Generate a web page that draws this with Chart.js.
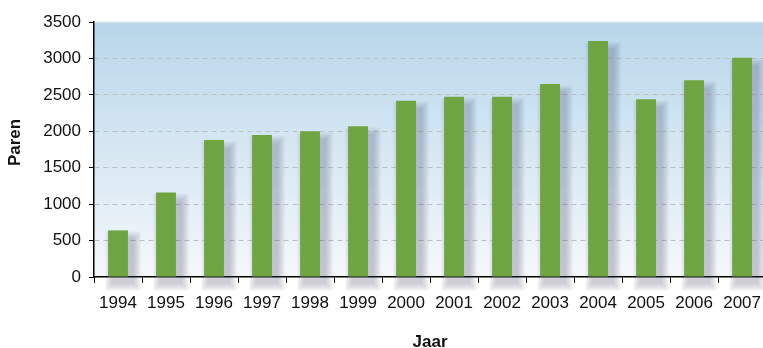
<!DOCTYPE html>
<html>
<head>
<meta charset="utf-8">
<script src="https://cdn.jsdelivr.net/npm/chart.js@4/dist/chart.umd.min.js"></script>
<style>
  html, body { margin: 0; padding: 0; background: #fff; overflow: hidden; }
  #wrap { width: 771px; height: 348px; }
</style>
</head>
<body>
<div id="wrap"><canvas id="chart"></canvas></div>
<script>
const years  = ['1994','1995','1996','1997','1998','1999','2000','2001','2002','2003','2004','2005','2006','2007'];
const paren  = [640, 1160, 1880, 1950, 2000, 2070, 2420, 2475, 2475, 2650, 3240, 2440, 2700, 3010];
const yTicks = [0, 500, 1000, 1500, 2000, 2500, 3000, 3500];

// gradient behind the plot + soft shadow under bars
const plotBackground = {
  id: 'plotBackground',
  beforeDraw(chart) {
    const { ctx: c, chartArea: a } = chart;
    const g = c.createLinearGradient(0, a.top, 0, a.bottom);
    g.addColorStop(0, '#b8d6ea');
    g.addColorStop(1, '#f5f8fb');
    c.save();
    c.fillStyle = g;
    c.fillRect(a.left, a.top, a.right - a.left, a.bottom - a.top);
    c.strokeStyle = '#e6edf3';
    c.lineWidth = 1.5;
    c.beginPath();
    c.moveTo(a.left, a.top);
    c.lineTo(a.right, a.top);
    c.stroke();
    c.restore();
  },
  beforeDatasetsDraw(chart) {
    const c = chart.ctx;
    const a = chart.chartArea;
    c.save();
    // fake blur: stacked translucent rects, offset right/down
    chart.getDatasetMeta(0).data.forEach(bar => {
      const { x, y, width } = bar.getProps(['x', 'y', 'width'], true);
      const l = x - width / 2 + 5, t = y + 9;
      for (let k = 1; k <= 8; k++) {
        c.fillStyle = 'rgba(70,85,110,0.04)';
        c.fillRect(l - k, t - k, width + 2 * k, a.bottom + 6 - t + 2 * k);
      }
    });
    c.restore();
  }
};

const family = '"Liberation Sans", Arial, sans-serif';

new Chart(document.getElementById('chart'), {
  type: 'bar',
  data: {
    labels: years,
    datasets: [{
      data: paren,
      backgroundColor: '#6fa443',
      borderWidth: 0,
      categoryPercentage: 1,
      barPercentage: 0.414
    }]
  },
  options: {
    responsive: true,
    maintainAspectRatio: false,
    animation: false,
    layout: { padding: { top: 22, right: 0, left: 0, bottom: 0 } },
    plugins: { legend: { display: false }, tooltip: { enabled: false } },
    scales: {
      x: {
        grid: { drawOnChartArea: false, drawTicks: true, tickLength: 6, color: '#000', offset: true },
        border: { color: '#000', width: 1.5 },
        ticks: { font: { family, size: 17 }, color: '#111', padding: 10, maxRotation: 0, autoSkip: false },
        title: {
          display: true, text: 'Jaar', color: '#111',
          font: { family, size: 17, weight: 'bold', lineHeight: 0.7 },
          padding: { top: 0, bottom: 0 }
        },
        afterFit(s) { s.height = 71; }
      },
      y: {
        min: 0, max: 3500,
        afterBuildTicks(s) { s.ticks = yTicks.map(v => ({ value: v })); },
        grid: {
          color: ctx => (ctx.tick && (ctx.tick.value === 0 || ctx.tick.value === 3500)) ? 'rgba(0,0,0,0)' : '#bcc1c6',
          tickColor: '#000',
          tickLength: 5,
          tickBorderDash: [],
          lineWidth: 1
        },
        border: { color: '#000', width: 1.5, dash: [5, 4] },
        ticks: { font: { family, size: 17 }, color: '#111', padding: 8, callback: v => String(v) },
        title: {
          display: true, text: '   Paren', color: '#111',
          font: { family, size: 17, weight: 'bold' },
          padding: { top: 5, bottom: 0 }
        },
        afterFit(s) { s.width = 94; }
      }
    }
  },
  plugins: [plotBackground]
});
</script>
</body>
</html>
